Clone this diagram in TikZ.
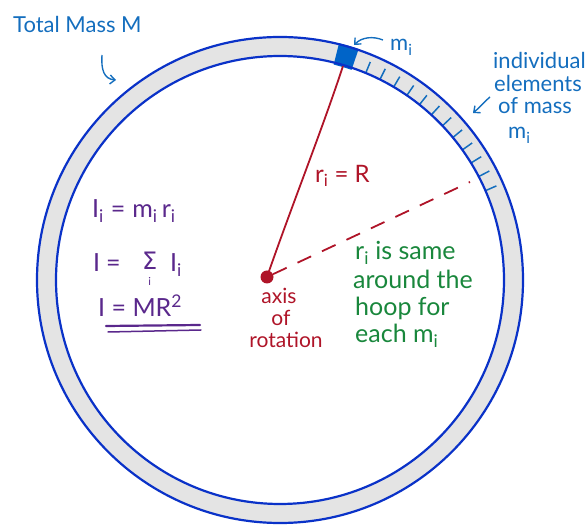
\documentclass[tikz,border=0pt]{standalone}
\usepackage{fontspec}
\setmainfont{Lato}
\newfontfamily\sigfont{DejaVu Sans}
\usetikzlibrary{arrows.meta,calc}
\definecolor{ringblue}{RGB}{10,50,200}
\definecolor{ringgray}{RGB}{228,228,228}
\definecolor{noteblue}{RGB}{20,110,190}
\definecolor{blockblue}{RGB}{0,100,200}
\definecolor{axred}{RGB}{175,20,40}
\definecolor{notegreen}{RGB}{25,135,60}
\definecolor{notepurple}{RGB}{90,40,140}
\begin{document}
\begin{tikzpicture}[x=1pt,y=1pt,
  txt/.style={inner sep=0pt, anchor=base west},
  bluetxt/.style={txt, text=noteblue, font=\fontsize{22}{24}\selectfont},
  redtxt/.style={inner sep=0pt, anchor=base, text=axred, font=\fontsize{21}{23}\selectfont},
  greentxt/.style={txt, text=notegreen, font=\fontsize{25}{27}\selectfont},
  purpletxt/.style={txt, text=notepurple, font=\fontsize{25}{27}\selectfont},
  notearrow/.style={noteblue, line width=1.4pt, -{Straight Barb[length=5pt,width=9pt]}},
  ringline/.style={ringblue, line width=2.2pt},
  tick/.style={noteblue, line width=1.5pt}]
\useasboundingbox (0,0) rectangle (587,525);
\coordinate (C) at (280,245);
% ring
\fill[ringgray, even odd rule] (C) circle (243) (C) circle (224);
% mass element
\fill[blockblue] ($(C)+(71.2:222)$) arc[start angle=71.2, end angle=76, radius=222]
  -- ($(C)+(76:244)$) arc[start angle=76, end angle=71.2, radius=244] -- cycle;
% ticks
\foreach \a in {67.5,63.5,...,23.4} {
  \draw[tick] ($(C)+(\a:224)$) -- ($(C)+(\a:236)$);
}
\draw[ringline] (C) circle (243) (C) circle (224);
% axis dot and radii
\node[circle, fill=axred, minimum size=13pt, inner sep=0pt] (axis) at (267,248) {};
\coordinate (blk) at ($(C)+(73.6:223)$);
\coordinate (dashend) at (470,343);
\draw[axred, line width=1.8pt] (axis.center) .. controls (292,320) and (322,395) .. (blk);
\draw[axred, line width=1.8pt, dash pattern=on 15pt off 12pt] (axis) -- (dashend);
% top-left label
\node[bluetxt] (total) at (13,492) {Total Mass M};
\coordinate (ta1) at (102,470);
\coordinate (ta2) at (116,445);
\draw[notearrow] (ta1) .. controls (101,455) and (104,446) .. (ta2);
% m_i label
\node[bluetxt] (mi) at (390,474) {m\textsubscript{i}};
\coordinate (ma1) at (383,485);
\coordinate (ma2) at (354,480);
\draw[notearrow] (ma1) .. controls (373,489) and (362,488) .. (ma2);
% individual elements
\node[bluetxt] (ind) at (493,456) {individual};
\node[bluetxt] (ele) at (494,433) {elements};
\node[bluetxt] (ofm) at (498,411) {of mass};
\node[bluetxt] (mi2) at (508,386) {m\textsubscript{i}};
\coordinate (ia1) at (490,428);
\coordinate (ia2) at (473,412);
\draw[notearrow] (ia1) .. controls (483,422) and (478,416) .. (ia2);
% r_i = R
\node[txt, text=axred, font=\fontsize{24}{26}\selectfont] (riR) at (315,342) {r\textsubscript{i} = R};
% axis of rotation
\node[redtxt] (ax1) at (279,221) {axis};
\node[redtxt] (ax2) at (281,199) {of};
\node[redtxt] (ax3) at (286,177) {rotation};
% green note
\node[greentxt] (g1) at (355,265) {r\textsubscript{i} is same};
\node[greentxt] (g2) at (353,236) {around the};
\node[greentxt] (g3) at (355,209) {hoop for};
\node[greentxt] (g4) at (355,182) {each m\textsubscript{i}};
% equations
\node[purpletxt] (eq1) at (92,307) {I\textsubscript{i}\hspace{7pt}=\hspace{7pt}m\textsubscript{i}\,r\textsubscript{i}};
\node[purpletxt] (eq2a) at (93,253) {I\hspace{6pt}=};
\node[purpletxt, font=\sigfont\fontsize{24}{26}\selectfont] (sig) at (142,255) {Σ};
\node[purpletxt] (eq2b) at (170,253) {I\textsubscript{i}};
\node[inner sep=0pt, text=notepurple, font=\fontsize{11}{12}\selectfont, anchor=north] (sigi) at ($(sig.base)+(0,-7)$) {i};
\node[purpletxt] (eq3) at (98,208) {I = MR\textsuperscript{2}};
\coordinate (u1a) at (106,199);
\coordinate (u1b) at (200,200);
\coordinate (u2a) at (108,193);
\coordinate (u2b) at (201,195);
\draw[notepurple, line width=2.2pt, line cap=round] (u1a) -- (u1b);
\draw[notepurple, line width=1.5pt, line cap=round] (u2a) -- (u2b);
\end{tikzpicture}
\end{document}
